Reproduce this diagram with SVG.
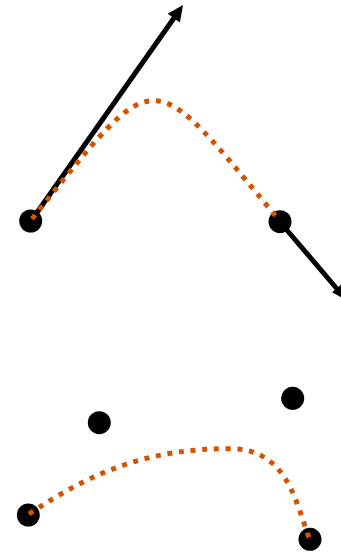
<svg xmlns="http://www.w3.org/2000/svg" width="341" height="553" viewBox="0 0 341 553">
  <style>
    .pt { fill: #000000; }
    .arrow { stroke: #000000; stroke-width: 5; fill: none; }
    .head { fill: #000000; }
    .curve { stroke: #d35400; stroke-width: 5; fill: none; stroke-dasharray: 5 6.7; stroke-linecap: butt; }
  </style>
  <rect width="341" height="553" fill="#ffffff"/>
  <g id="p0"><circle class="pt" cx="30.7" cy="221" r="11.5"/></g>
  <g id="p3"><circle class="pt" cx="280" cy="221.7" r="11.5"/></g>
  <g id="q0"><circle class="pt" cx="28.3" cy="515" r="11.5"/></g>
  <g id="q1"><circle class="pt" cx="99.3" cy="422.7" r="11.5"/></g>
  <g id="q2"><circle class="pt" cx="292.7" cy="398.3" r="11.5"/></g>
  <g id="q3"><circle class="pt" cx="310" cy="539.3" r="11.5"/></g>
  <g id="connectors">
    <line class="arrow" x1="31" y1="221" x2="174" y2="18"/>
    <polygon class="head" points="183,5 167.7,13.8 179.9,22.4"/>
    <line class="arrow" x1="280" y1="222" x2="338" y2="290"/>
    <polygon class="head" points="348.4,301.2 332,292.3 343.5,282.5"/>
    <path class="curve" d="M32,219 C160,59 148,63 279,220"/>
    <path class="curve" d="M29,514 C95,470 150,448.7 230,448.7 C285,448.7 294.7,496.7 309,538"/>
  </g>
</svg>
